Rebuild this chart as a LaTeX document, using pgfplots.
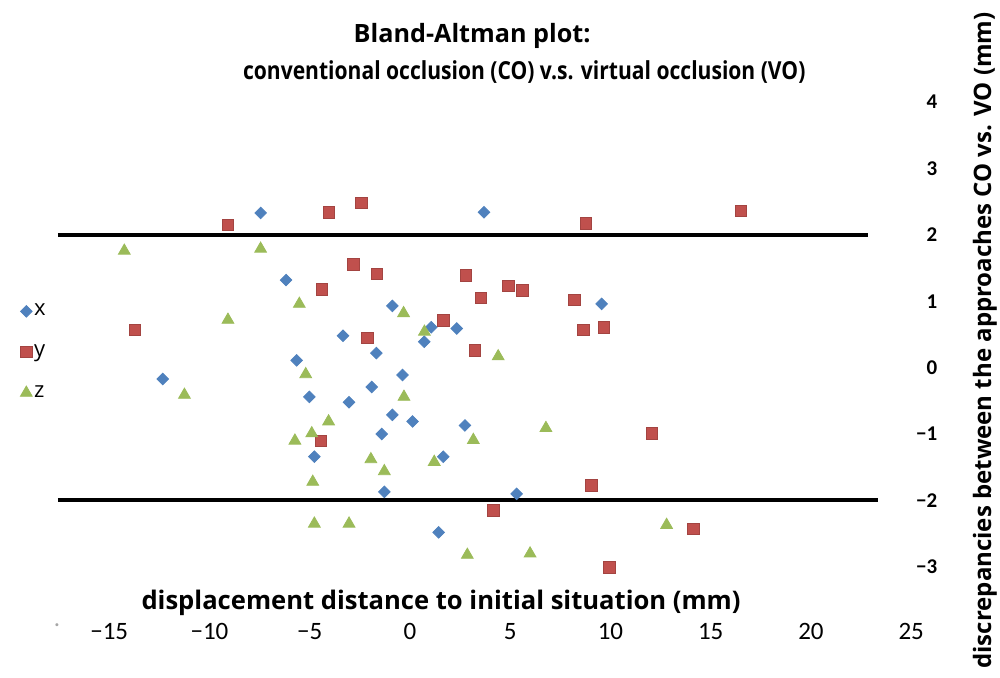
\documentclass[border=0pt]{standalone}
\usepackage{fontspec}
\setmainfont{Open Sans}
\newfontfamily\carlito{Carlito}
\newfontfamily\narrowfont[FakeStretch=0.85]{Open Sans}
\usepackage{pgfplots}
\pgfplotsset{compat=1.18}
\definecolor{cx}{HTML}{4F81BD}
\definecolor{cy}{HTML}{C0504D}
\definecolor{cz}{HTML}{9BBB59}
\begin{document}
\begin{tikzpicture}
\begin{axis}[
  x=10.025pt, y=33.2pt,
  xmin=-20, xmax=26.5, ymin=-3.75, ymax=4.5,
  clip=false,
  axis line style={draw=none},
  major tick length=0pt,
  xtick={-17.6,-15,-10,-5,0,5,10,15,20,25},
  xticklabels={{\textcolor{gray!70}{.}},−15,−10,−5,0,5,10,15,20,25},
  xticklabel style={font=\carlito\fontsize{12.5}{12.5}\selectfont},
  ytick={-3,-2,-1,0,1,2,3,4},
  yticklabels={−3,−2,−1,0,1,2,3,4},
  yticklabel pos=right,
  yticklabel style={anchor=east, xshift=1.5pt, font=\carlito\bfseries\fontsize{10.5}{10.5}\selectfont},
  legend cell align=left,
  legend style={draw=none, fill=none, at={(axis cs:-19.75,0.235)}, anchor=west,
    font=\fontsize{11}{11}\selectfont, row sep=11pt,
    nodes={inner sep=1pt}},
  legend image code/.code={\draw plot coordinates {(0.1cm,0cm)};},
]
\addplot[only marks, mark=square*, mark size=2.05pt, mark options={rotate=45, fill=cx, draw=cx}] coordinates {
(-7.45,2.33) (3.69,2.34) (-6.18,1.32) (-0.88,0.93) (1.06,0.61) (2.33,0.59)
(-3.34,0.48) (0.71,0.39) (-1.68,0.22) (-5.65,0.11) (9.56,0.96) (-12.33,-0.17)
(-0.37,-0.11) (-1.91,-0.29) (-5.02,-0.44) (-3.04,-0.52) (-0.88,-0.71) (0.13,-0.81)
(2.74,-0.87) (-1.41,-1.00) (-4.77,-1.34) (1.66,-1.34) (-1.28,-1.87) (1.43,-2.48)
(5.32,-1.90)
};
\addlegendentry{x}
\addplot[only marks, mark=square*, mark size=2.9pt, mark options={fill=cy, draw=cy!85!black}] coordinates {
(-9.08,2.15) (-4.04,2.34) (-2.41,2.48) (8.78,2.17) (16.51,2.36) (-2.83,1.56)
(-1.66,1.41) (2.78,1.39) (-4.39,1.18) (3.54,1.05) (4.92,1.23) (5.62,1.16)
(8.20,1.02) (-13.73,0.57) (1.68,0.71) (8.65,0.57) (9.68,0.61) (-2.11,0.45)
(3.24,0.26) (-4.44,-1.10) (12.07,-0.99) (9.06,-1.77) (4.16,-2.15) (14.13,-2.43)
(9.94,-3.01)
};
\addlegendentry{y}
\addplot[only marks, mark=triangle*, mark size=3.4pt, mark options={fill=cz, draw=cz}] coordinates {
(-14.25,1.76) (-7.45,1.79) (-5.52,0.96) (-0.32,0.82) (-9.08,0.72) (0.72,0.54)
(4.40,0.17) (-5.20,-0.10) (-11.25,-0.41) (-0.30,-0.44) (-4.06,-0.81) (3.16,-1.09)
(-4.90,-0.99) (-5.74,-1.10) (-1.95,-1.38) (1.21,-1.42) (-1.28,-1.56) (-4.85,-1.72)
(-4.77,-2.35) (-3.04,-2.35) (2.86,-2.82) (6.78,-0.91) (12.80,-2.37) (5.99,-2.80)
};
\addlegendentry{z}
\addplot[black, line width=2pt, forget plot] coordinates {(-17.56,2) (22.84,2)};
\addplot[black, line width=2pt, forget plot] coordinates {(-17.56,-2) (23.34,-2)};
\node[font=\bfseries\fontsize{12.6}{12.6}\selectfont] at (axis cs:3.1,5.0) {Bland-Altman plot:};
\node[font=\narrowfont\bfseries\fontsize{12.4}{12.4}\selectfont] at (axis cs:5.7,4.45) {conventional occlusion (CO) v.s. virtual occlusion (VO)};
\node[font=\bfseries\fontsize{12.8}{12.8}\selectfont] at (axis cs:1.55,-3.54) {displacement distance to initial situation (mm)};
\node[font=\bfseries\fontsize{12}{12}\selectfont, rotate=90] at (axis cs:28.68,0.41) {discrepancies between the approaches CO vs. VO (mm)};
\coordinate (BL) at (axis cs:-20.45,-4.673);
\coordinate (TR) at (axis cs:29.43,5.538);
\end{axis}
\pgfresetboundingbox
\path[use as bounding box] (BL) rectangle (TR);
\end{tikzpicture}
\end{document}
